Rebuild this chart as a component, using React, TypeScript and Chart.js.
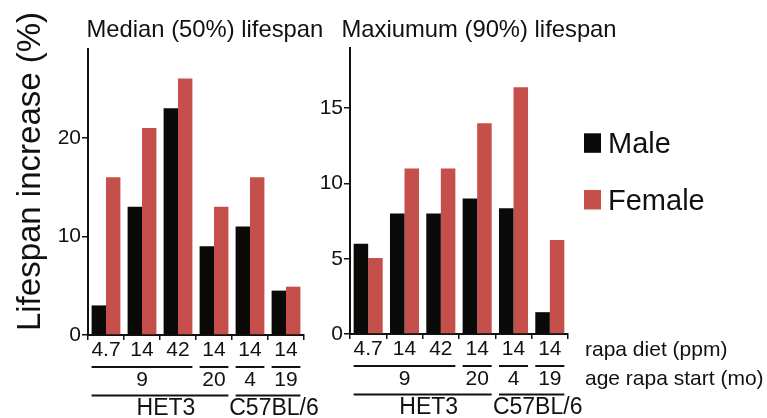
import React, { useEffect, useRef } from 'react';
import { Chart, registerables } from 'chart.js';

Chart.register(...registerables);

const FONT = "'Liberation Sans', Arial, Helvetica, sans-serif";

// ---- data ----
const categories = ['4.7', '14', '42', '14', '14', '14'];
const seriesNames = ['Male', 'Female'];
const medianMale = [3, 13, 23, 9, 11, 4.5];
const medianFemale = [16, 21, 26, 13, 16, 4.9];
const maxMale = [6, 8, 8, 9, 8.35, 1.45];
const maxFemale = [5.05, 11, 11, 14, 16.4, 6.25];
const medianTicks = [0, 10, 20];
const maxTicks = [0, 5, 10, 15];
const medianMax = 29;
const maxMax = 19;
const ageLabels = ['9', '20', '4', '19'];
const ageFrom = [0, 3, 4, 5];
const ageTo = [2, 3, 4, 5];
const strainLabels = ['HET3', 'C57BL/6'];
const strainFrom = [0, 4];
const strainTo = [3, 5];
const rowLabels = ['rapa diet (ppm)', 'age rapa start (mo)'];
const panelTitles = ['Median (50%) lifespan', 'Maxiumum (90%) lifespan'];
const yTitle = 'Lifespan increase (%)';

// ---- styles ----
const BLACK = '#0a0a08';
const RED = '#c5504b';
const TEXT = '#111111';

function drawGroups(ctx: CanvasRenderingContext2D, chart: any, labels: string[], from: number[], to: number[],
  lineOffset: number, baseOffset: number, fontSize: number, dx: number) {
  const x = chart.scales.x;
  const area = chart.chartArea;
  const cw = (x.right - x.left) / categories.length;
  const half = (cw * 0.8) / 2;
  ctx.font = `${fontSize}px ${FONT}`;
  ctx.textAlign = 'center';
  ctx.textBaseline = 'alphabetic';
  ctx.lineWidth = 2;
  labels.forEach((lab, i) => {
    const x0 = x.getPixelForValue(from[i]) - half;
    const x1 = x.getPixelForValue(to[i]) + half;
    const ly = area.bottom + lineOffset;
    ctx.beginPath();
    ctx.moveTo(x0, ly);
    ctx.lineTo(x1, ly);
    ctx.stroke();
    ctx.fillText(lab, (x0 + x1) / 2 + dx, area.bottom + baseOffset);
  });
}

function makePlugin(panel: number) {
  return {
    id: 'annot' + panel,
    afterDraw(chart: any) {
      const ctx = chart.ctx as CanvasRenderingContext2D;
      const area = chart.chartArea;
      ctx.save();
      ctx.fillStyle = TEXT;
      ctx.strokeStyle = TEXT;
      // panel title
      ctx.font = `23.8px ${FONT}`;
      ctx.textAlign = 'left';
      ctx.textBaseline = 'alphabetic';
      ctx.fillText(panelTitles[panel], area.left + (panel === 0 ? -1.5 : -8.5), 37);
      // group rows
      drawGroups(ctx, chart, ageLabels, ageFrom, ageTo, 32, 51, 21, 0);
      drawGroups(ctx, chart, strainLabels, strainFrom, strainTo, 60.5, 80, 23, 6);
      if (panel === 0) {
        ctx.save();
        ctx.font = `33px ${FONT}`;
        ctx.textAlign = 'center';
        ctx.textBaseline = 'alphabetic';
        ctx.translate(40, 171.5);
        ctx.rotate(-Math.PI / 2);
        ctx.fillText(yTitle, 0, 0);
        ctx.restore();
      } else {
        // row labels
        ctx.font = `21px ${FONT}`;
        ctx.textAlign = 'left';
        ctx.fillText(rowLabels[0], area.right + 17, area.bottom + 22);
        ctx.fillText(rowLabels[1], area.right + 17, area.bottom + 51);
        // legend
        const colors = [BLACK, RED];
        const baselines = [153.3, 210];
        ctx.font = `29px ${FONT}`;
        seriesNames.forEach((name, i) => {
          ctx.fillStyle = colors[i];
          ctx.fillRect(area.right + 16, baselines[i] - 20, 17, 19.5);
          ctx.fillStyle = TEXT;
          ctx.fillText(name, area.right + 40, baselines[i]);
        });
      }
      ctx.restore();
    },
  };
}

function makeConfig(panel: number, male: number[], female: number[], ticks: number[], max: number,
  yWidth: number, padding: any, xHeight: number): any {
  return {
    type: 'bar',
    data: {
      labels: categories,
      datasets: [
        { label: seriesNames[0], data: male, backgroundColor: BLACK, borderWidth: 0 },
        { label: seriesNames[1], data: female, backgroundColor: RED, borderWidth: 0 },
      ],
    },
    options: {
      animation: false,
      responsive: false,
      maintainAspectRatio: false,
      devicePixelRatio: 1,
      layout: { padding },
      datasets: { bar: { categoryPercentage: 0.8, barPercentage: 1.0 } },
      plugins: { legend: { display: false }, tooltip: { enabled: false }, title: { display: false } },
      scales: {
        x: {
          type: 'category',
          grid: { display: true, drawOnChartArea: false, drawTicks: true, tickLength: 5, color: TEXT, lineWidth: 1.5, offset: true },
          border: { display: true, color: TEXT, width: 2 },
          ticks: { color: TEXT, font: { family: FONT, size: 21, lineHeight: 1 }, padding: 0, maxRotation: 0, autoSkip: false },
          afterFit(scale: any) { scale.height = xHeight; },
        },
        y: {
          type: 'linear',
          min: 0,
          max,
          grid: { display: true, drawOnChartArea: false, drawTicks: true, tickLength: 6, color: TEXT, lineWidth: 1.5 },
          border: { display: true, color: TEXT, width: 2 },
          ticks: { color: TEXT, font: { family: FONT, size: 21, lineHeight: 1 }, padding: 1 },
          afterBuildTicks(scale: any) { scale.ticks = ticks.map((v) => ({ value: v })); },
          afterFit(scale: any) { scale.width = yWidth; },
        },
      },
    },
    plugins: [makePlugin(panel)],
  };
}

function Panel(props: { panel: number; left: number; width: number; male: number[]; female: number[];
  ticks: number[]; max: number; yWidth: number; top: number; right: number; bottom: number }) {
  const ref = useRef<HTMLCanvasElement>(null);
  useEffect(() => {
    if (!ref.current) return;
    const cfg = makeConfig(props.panel, props.male, props.female, props.ticks, props.max, props.yWidth,
      { left: 0, top: props.top, right: props.right, bottom: 0 }, props.bottom);
    const chart = new Chart(ref.current, cfg);
    return () => chart.destroy();
  }, []);
  return (
    <canvas
      ref={ref}
      width={props.width}
      height={418}
      style={{ position: 'absolute', left: props.left, top: 0, width: props.width, height: 418 }}
    />
  );
}

export default function App() {
  return (
    <div style={{ position: 'absolute', left: 0, top: 0, width: 767, height: 418, background: '#ffffff', overflow: 'hidden' }}>
      <Panel panel={0} left={0} width={330} male={medianMale} female={medianFemale} ticks={medianTicks}
        max={medianMax} yWidth={88} top={49} right={26} bottom={83} />
      <Panel panel={1} left={312} width={455} male={maxMale} female={maxFemale} ticks={maxTicks}
        max={maxMax} yWidth={38} top={48} right={199} bottom={84} />
    </div>
  );
}
